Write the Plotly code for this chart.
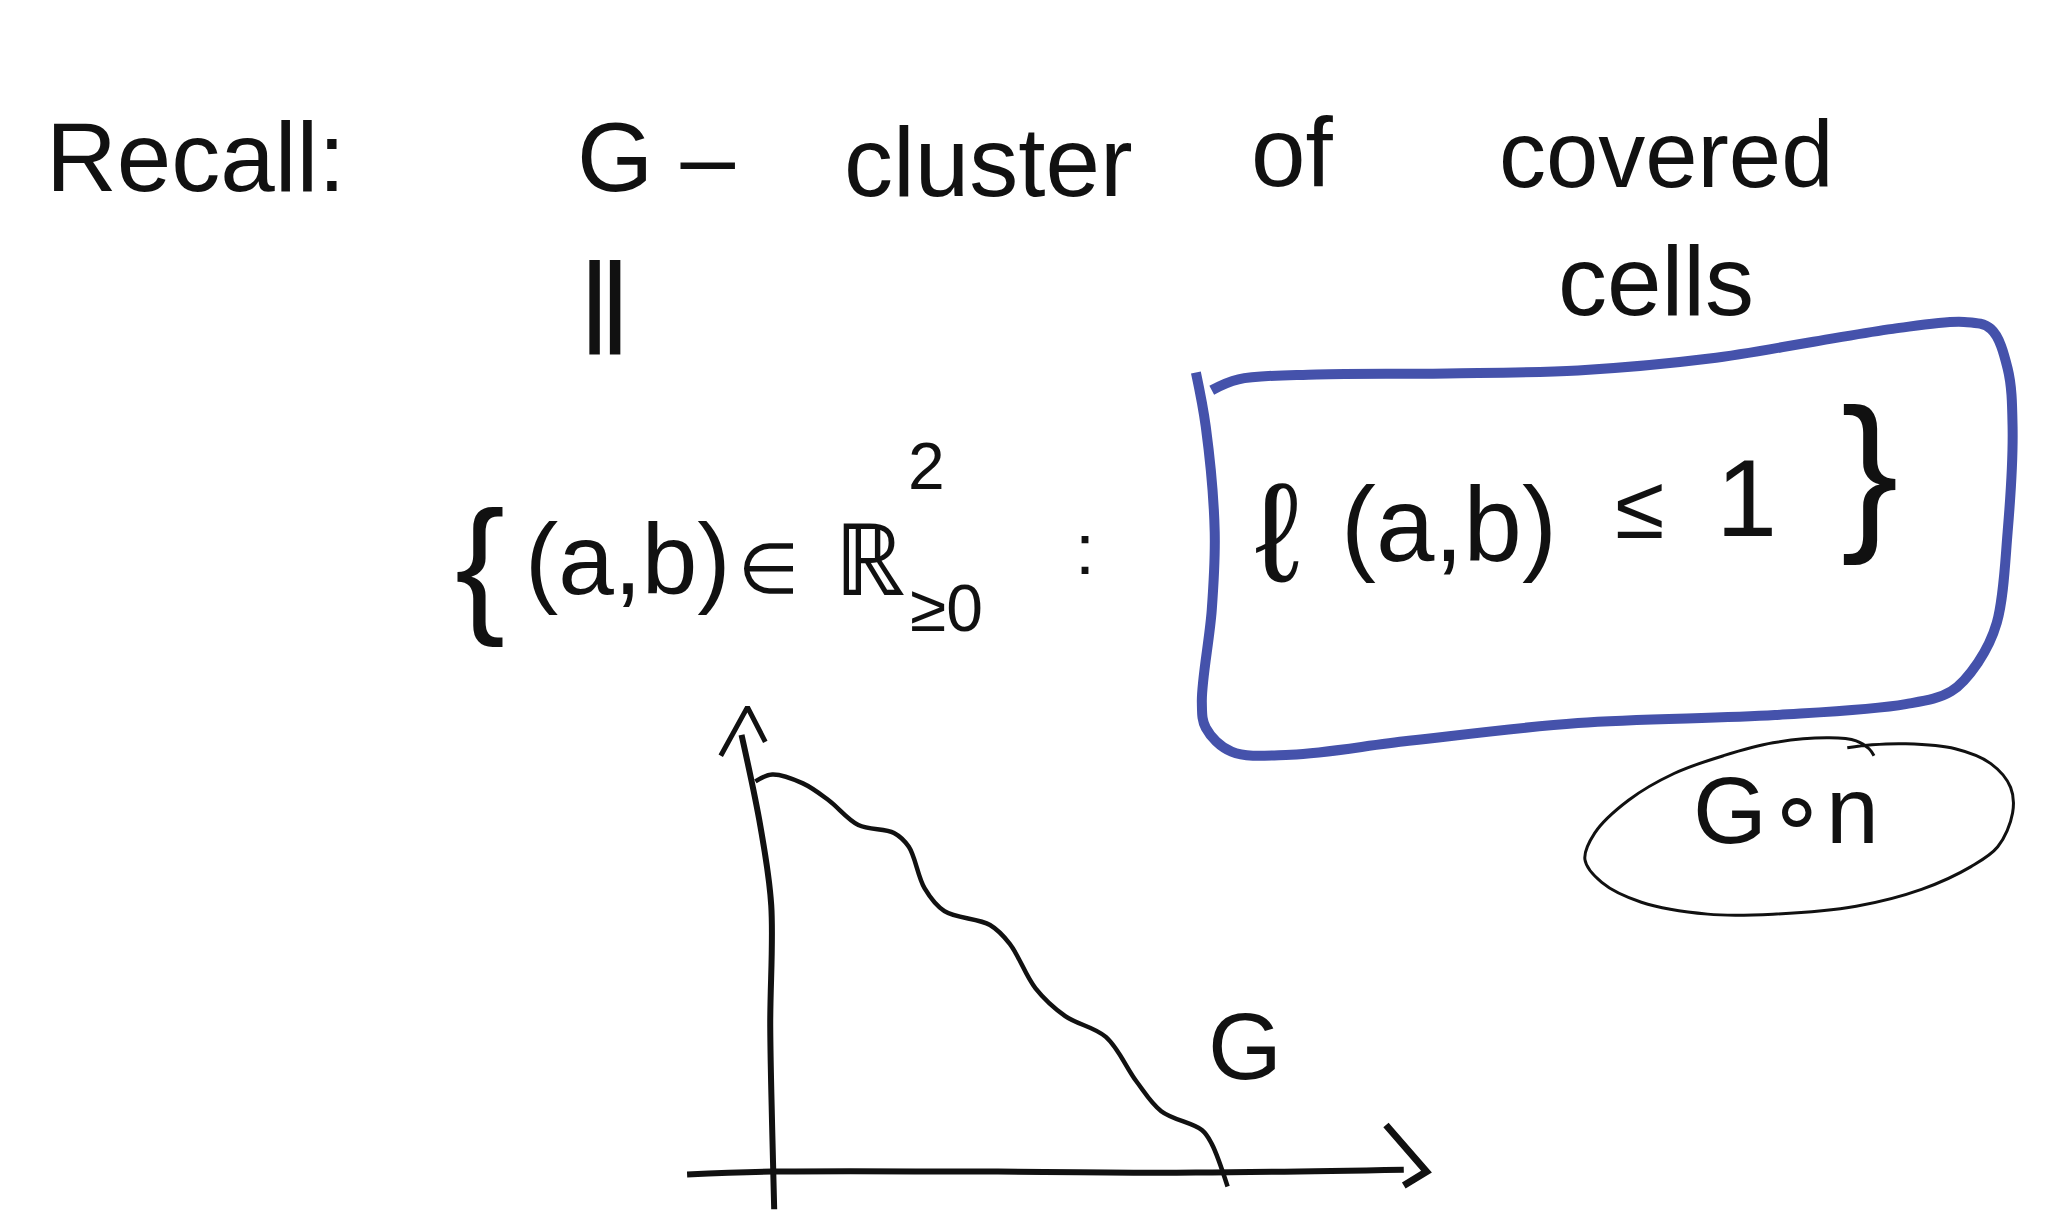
import plotly.graph_objects as go

# ---- stroke data (page units on the sketch sheet) ----
curve_x = [755, 772, 803, 829, 859, 895, 910, 926, 946, 992, 1012, 1038, 1068, 1109, 1140, 1165, 1206, 1216, 1232]
curve_y = [781, 774, 783, 800, 825, 833, 847, 889, 912, 926, 945, 990, 1018, 1039, 1084, 1114, 1133, 1147, 1190]

yaxis_x = [741, 760, 771, 770, 772, 774]
yaxis_y = [734, 826, 906, 1028, 1133, 1213]
yarrow_x = [720, 747, 765]
yarrow_y = [755, 706, 741]

xaxis_x = [686, 772, 1000, 1200, 1410]
xaxis_y = [1178, 1175, 1175, 1176, 1173]
xarrow_x = [1392, 1433, 1410]
xarrow_y = [1128, 1175, 1189]

box_x = [1200, 1210, 1219, 1216, 1206, 1210, 1236, 1296, 1415, 1586, 1785, 1917, 1963, 1990, 2009,
         2020, 2025, 2020, 2003, 1976, 1904, 1824, 1719, 1586, 1454, 1322, 1243, 1216]
box_y = [368, 423, 529, 608, 701, 727, 751, 754, 740, 722, 714, 703, 690, 661, 621,
         529, 423, 364, 324, 317, 324, 337, 354, 366, 369, 370, 375, 386]

ellipse_x = [1858, 1883, 1917, 1967, 2003, 2023, 2025, 2010, 1983, 1933, 1867, 1783, 1717, 1650, 1610,
             1593, 1603, 1637, 1683, 1733, 1783, 1840, 1867, 1880, 1885]
ellipse_y = [747, 744, 743, 748, 763, 787, 813, 847, 867, 890, 907, 915, 915, 903, 883,
             860, 833, 800, 773, 755, 742, 737, 740, 748, 755]

# ---- text pieces ----
labels = ["Recall:", "G –", "cluster", "of", "covered", "cells", "‖",
          "{", "(a,b)", "∈", "ℝ", "2", "≥0", ":",
          "ℓ", "(a,b)", "≤", "1", "}", "G", "G∘n"]
label_x = [190, 655, 990, 1298, 1675, 1665, 603,
           477, 626, 768, 870, 928, 948, 1088,
           1282, 1456, 1648, 1756, 1880, 1250, 1796]
label_y = [150, 150, 156, 145, 148, 276, 304,
           561, 556, 566, 557, 462, 606, 546,
           530, 522, 504, 494, 466, 1048, 810]
label_size = [98, 98, 98, 98, 94, 98, 130,
              150, 100, 70, 100, 66, 66, 72,
              140, 105, 90, 110, 172, 95, 95]

INK = "#111111"
BLUE = "#4552ab"
FONT = "Liberation Sans, Arial, sans-serif"

fig = go.Figure()

def stroke(xs, ys, color, width, smooth=True):
    fig.add_trace(go.Scatter(
        x=xs, y=ys, mode="lines", hoverinfo="skip",
        line=dict(color=color, width=width, shape="spline" if smooth else "linear", smoothing=1.0)))

stroke(box_x, box_y, BLUE, 10)
stroke(ellipse_x, ellipse_y, INK, 3)
stroke(yaxis_x, yaxis_y, INK, 6)
stroke(yarrow_x, yarrow_y, INK, 5, smooth=False)
stroke(xaxis_x, xaxis_y, INK, 6)
stroke(xarrow_x, xarrow_y, INK, 7, smooth=False)
stroke(curve_x, curve_y, INK, 4.5)

for t, x, y, s in zip(labels, label_x, label_y, label_size):
    fig.add_annotation(x=x, y=y, text=t, showarrow=False, xanchor="center", yanchor="middle",
                       font=dict(family=FONT, size=s, color=INK))

fig.update_layout(
    width=2062, height=1226,
    margin=dict(l=0, r=0, t=0, b=0),
    paper_bgcolor="white", plot_bgcolor="white",
    showlegend=False,
    xaxis=dict(range=[0, 2083], visible=False, fixedrange=True),
    yaxis=dict(range=[1238, 0], visible=False, fixedrange=True),
)

fig.write_html("out.html")
